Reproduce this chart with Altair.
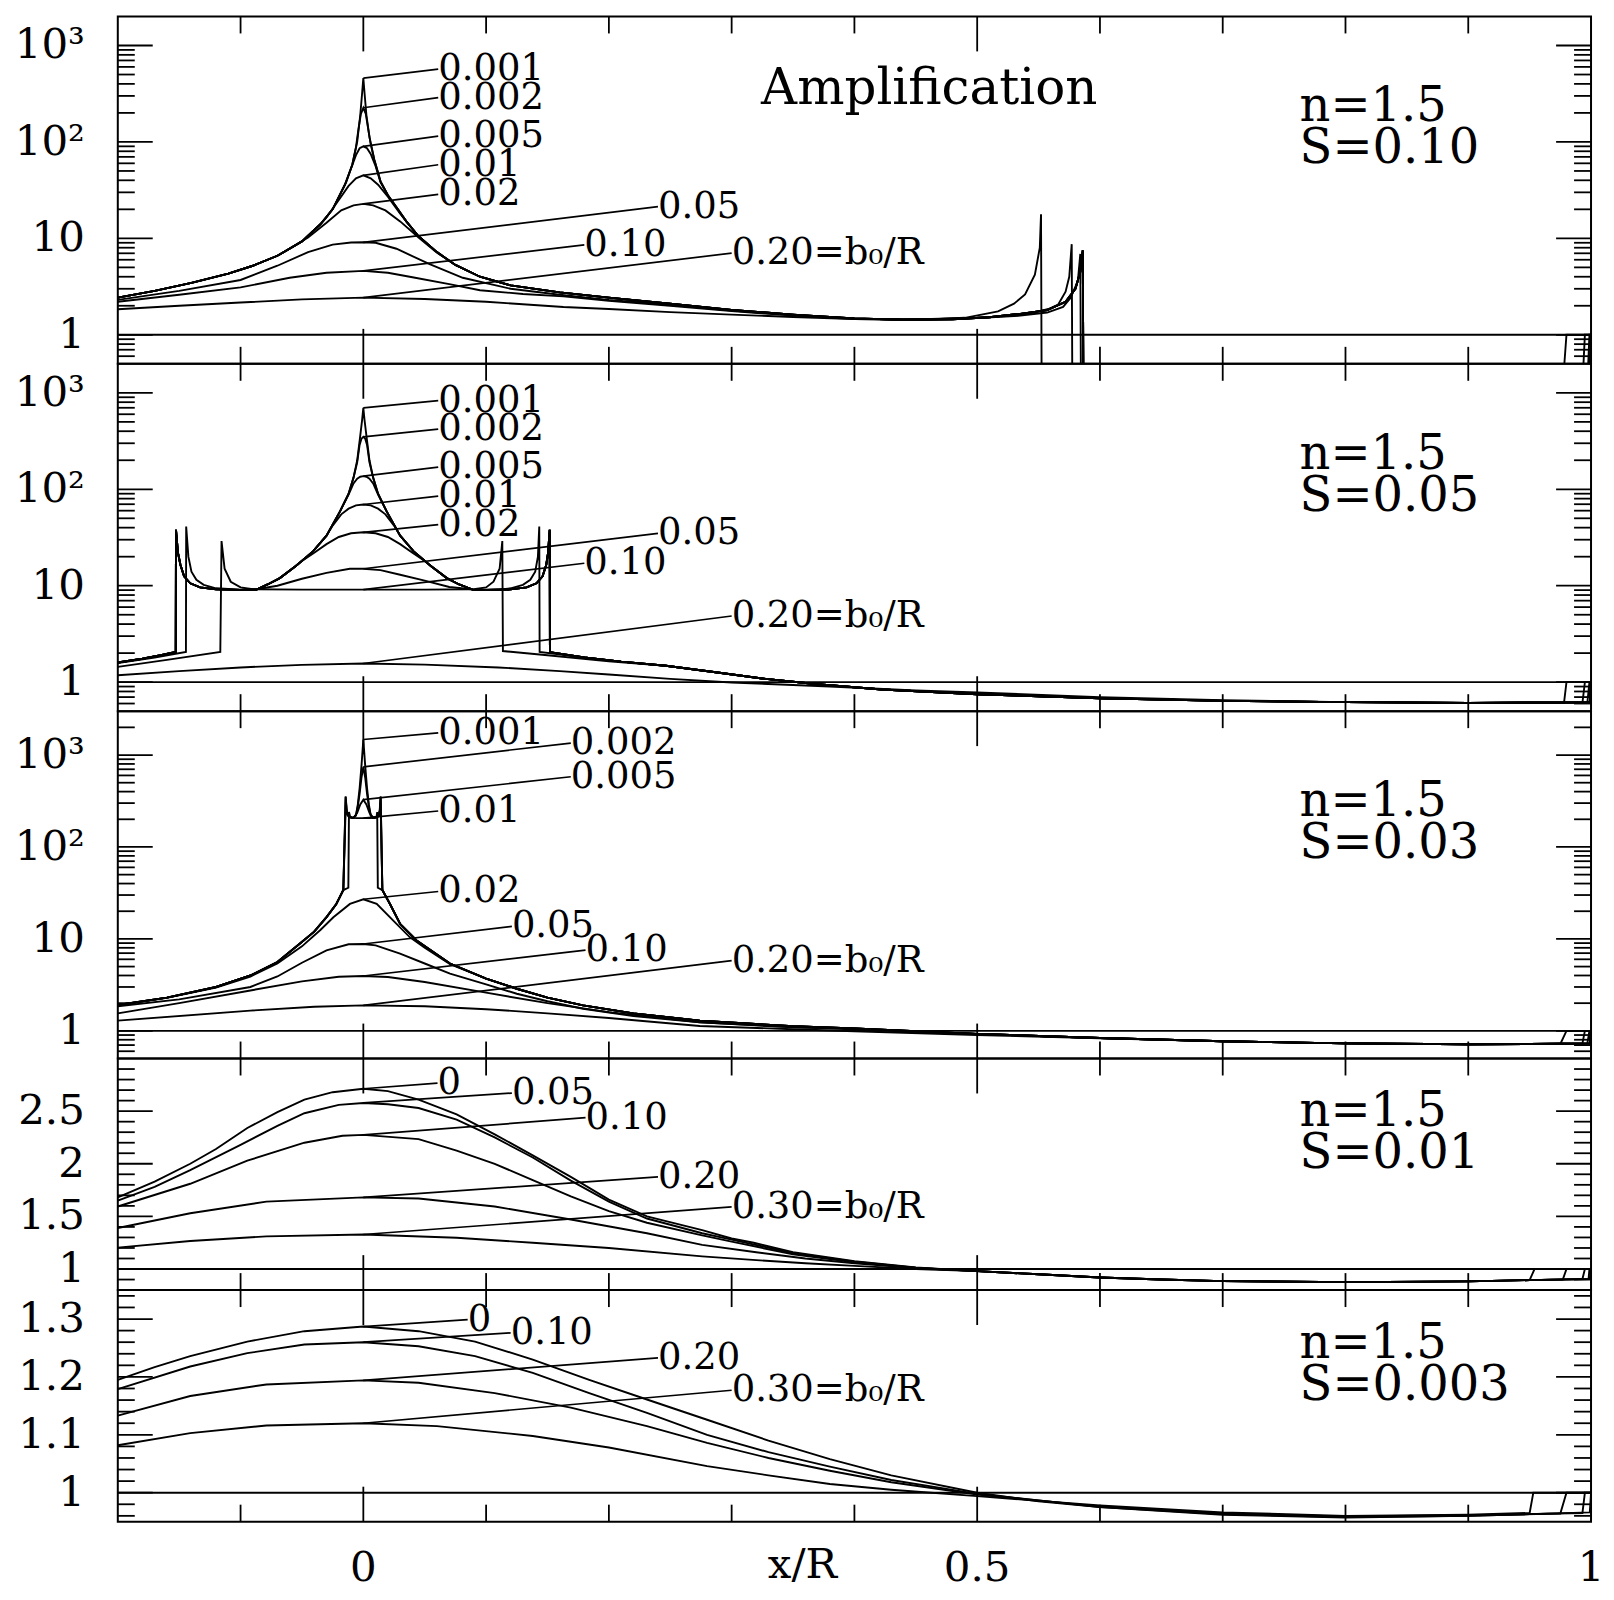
import altair as alt
import pandas as pd

FONT = "DejaVu Serif"
PLOT_W = 1476
PANEL_H = [348, 348, 348, 232, 232]

# ---------------- axes / ticks ----------------
x_domain = [-0.2, 1.0]
x_major = [0.0, 0.5, 1.0]
x_major_labels = ["0", "0.5", "1"]
x_minor = [-0.1, 0.1, 0.2, 0.3, 0.4, 0.6, 0.7, 0.8, 0.9]
x_title = "x/R"

y_domains = [[0.5, 2000], [0.5, 2000], [0.5, 3000], [0.8, 3.0], [0.95, 1.35]]
y_types = ["log", "log", "log", "linear", "linear"]
log_major = [1, 10, 100, 1000]
log_major_labels = ["1", "10", "10²", "10³"]
log_minor_2000 = [0.6, 0.7, 0.8, 0.9, 2, 3, 4, 5, 6, 7, 8, 9, 20, 30, 40, 50, 60, 70, 80, 90,
                  200, 300, 400, 500, 600, 700, 800, 900]
log_minor_3000 = log_minor_2000 + [2000]
lin4_major = [1.0, 1.5, 2.0, 2.5]
lin4_major_labels = ["1", "1.5", "2", "2.5"]
lin4_minor = [0.9, 1.1, 1.2, 1.3, 1.4, 1.6, 1.7, 1.8, 1.9, 2.1, 2.2, 2.3, 2.4, 2.6, 2.7, 2.8, 2.9]
lin5_major = [1.0, 1.1, 1.2, 1.3]
lin5_major_labels = ["1", "1.1", "1.2", "1.3"]
lin5_minor = [0.96, 0.98, 1.02, 1.04, 1.06, 1.08, 1.12, 1.14, 1.16, 1.18, 1.22, 1.24, 1.26,
              1.28, 1.32, 1.34]
ref_level = [1.0]
panel_n = "n=1.5"
panel_S = ["S=0.10", "S=0.05", "S=0.03", "S=0.01", "S=0.003"]
title_text = "Amplification"

# ---------------- panel 1 (S=0.10) ----------------
p1_env = [(-0.2, 2.43), (-0.17, 2.85), (-0.14, 3.45), (-0.11, 4.3), (-0.09, 5.2), (-0.07, 6.6),
          (-0.05, 9.3), (-0.035, 14), (-0.025, 20), (-0.015, 36), (-0.009, 58), (-0.005, 100),
          (-0.0025, 190), (-0.001, 320),
          (0.001, 320), (0.0025, 190), (0.005, 112), (0.009, 65), (0.014, 39), (0.02, 28),
          (0.027, 21), (0.035, 15), (0.045, 10.5), (0.06, 7.2), (0.075, 5.3), (0.095, 4.0),
          (0.12, 3.25), (0.16, 2.75), (0.2, 2.43), (0.25, 2.1), (0.3, 1.81), (0.35, 1.62),
          (0.4, 1.48)]
p1_core_0001 = [(0.0, 458)]
p1_core_0002 = [(-0.006, 88), (-0.004, 135), (-0.002, 195), (0.0, 226), (0.002, 195),
                (0.004, 135), (0.006, 95)]
p1_core_0005 = [(-0.014, 38), (-0.01, 53), (-0.006, 73), (-0.003, 86), (0.0, 90), (0.003, 86),
                (0.006, 75), (0.01, 56), (0.014, 38)]
p1_core_001 = [(-0.03, 16.5), (-0.02, 25), (-0.012, 35), (-0.006, 42), (0.0, 45), (0.006, 42),
               (0.012, 36), (0.02, 27), (0.03, 18)]
p1_core_002 = [(-0.06, 7.8), (-0.045, 10.2), (-0.03, 14.5), (-0.018, 19.5), (-0.008, 22),
               (0.0, 22.8), (0.008, 22), (0.018, 19.5), (0.03, 15), (0.045, 10.2), (0.06, 7.1)]
p1_b005 = [(-0.2, 2.3), (-0.15, 2.85), (-0.1, 3.7), (-0.07, 5.2), (-0.045, 7.2), (-0.025, 8.6),
           (-0.01, 9.05), (0.0, 9.1), (0.01, 9.0), (0.027, 7.8), (0.054, 5.4), (0.081, 3.9),
           (0.12, 3.0), (0.16, 2.6), (0.2, 2.3), (0.25, 2.05), (0.3, 1.78), (0.35, 1.6), (0.4, 1.47)]
p1_b010 = [(-0.2, 2.2), (-0.15, 2.6), (-0.1, 3.1), (-0.06, 3.9), (-0.03, 4.4), (0.0, 4.6),
           (0.02, 4.4), (0.04, 3.95), (0.07, 3.35), (0.095, 2.9), (0.13, 2.65), (0.163, 2.5),
           (0.2, 2.25), (0.25, 2.0), (0.3, 1.76), (0.35, 1.58), (0.4, 1.46)]
p1_b020 = [(-0.2, 1.84), (-0.15, 2.0), (-0.1, 2.16), (-0.05, 2.33), (0.0, 2.43), (0.05, 2.35),
           (0.1, 2.2), (0.163, 1.94), (0.2, 1.85), (0.25, 1.72), (0.3, 1.62), (0.35, 1.53),
           (0.4, 1.46)]
p1_tail_small = [(0.44, 1.43), (0.48, 1.45), (0.51, 1.52), (0.535, 1.65), (0.557, 1.8),
                 (0.572, 2.2), (0.58, 3.0), (0.584, 4.5), (0.586, 7.5), (0.5865, 0.3),
                 (0.999, 0.3), (1.0, 1.0)]
p1_tail_005 = [(0.44, 1.43), (0.5, 1.49), (0.53, 1.56), (0.557, 1.7), (0.57, 1.95), (0.576, 2.41),
               (0.582, 3.6), (0.584, 6.9), (0.5845, 0.3), (0.997, 0.3), (0.9987, 1.0), (1.0, 1.0)]
p1_tail_010 = [(0.44, 1.43), (0.5, 1.5), (0.53, 1.58), (0.544, 1.68), (0.558, 1.85),
               (0.566, 2.06), (0.572, 2.8), (0.575, 4.0), (0.577, 8.7), (0.5775, 0.3),
               (0.993, 0.3), (0.995, 1.0), (1.0, 1.0)]
p1_tail_020 = [(0.46, 1.44), (0.49, 1.5), (0.517, 1.75), (0.53, 2.1), (0.539, 2.62), (0.547, 4.2),
               (0.551, 8.0), (0.552, 17.8), (0.5525, 0.3), (0.977, 0.3), (0.98, 1.0), (1.0, 1.0)]
p1_labels = ["0.001", "0.002", "0.005", "0.01", "0.02", "0.05", "0.10", "0.20=b₀/R"]
p1_peaks = [458, 226, 90, 45, 22.8, 9.1, 4.6, 2.43]
p1_lab_x = [0.061, 0.061, 0.061, 0.061, 0.061, 0.24, 0.18, 0.30]
p1_lab_y = [570, 288, 115, 58, 28.6, 21.3, 8.56, 7.03]

# ---------------- panel 2 (S=0.05) ----------------
p2_env = [(-0.087, 9.1), (-0.078, 10.3), (-0.068, 12), (-0.055, 16), (-0.041, 22.7), (-0.03, 33),
          (-0.019, 59), (-0.012, 90), (-0.008, 132), (-0.005, 200), (-0.0027, 344), (-0.001, 520),
          (0.001, 520), (0.0027, 344), (0.005, 200), (0.008, 132), (0.012, 90), (0.019, 59),
          (0.03, 33), (0.041, 22.7), (0.055, 16), (0.068, 12), (0.078, 10.3), (0.089, 9.1)]
p2_core_0001 = [(0.0, 697)]
p2_core_0002 = [(-0.005, 190), (-0.003, 290), (-0.0015, 335), (0.0, 350), (0.0015, 335),
                (0.003, 290), (0.005, 190)]
p2_core_0005 = [(-0.012, 88), (-0.008, 115), (-0.005, 129), (-0.0025, 135), (0.0, 137),
                (0.0025, 135), (0.005, 129), (0.008, 115), (0.012, 88)]
p2_core_001 = [(-0.025, 42), (-0.018, 55), (-0.012, 63), (-0.006, 68), (0.0, 69.5), (0.006, 68),
               (0.012, 63), (0.018, 55), (0.025, 42)]
p2_core_002 = [(-0.05, 18), (-0.04, 22), (-0.03, 27), (-0.02, 32), (-0.01, 35), (0.0, 35.8),
               (0.01, 35), (0.02, 32), (0.03, 27), (0.04, 22), (0.05, 18)]
p2_left_small = [(-0.2, 1.6), (-0.18, 1.75), (-0.165, 1.9), (-0.1528, 2.06), (-0.1526, 38),
                 (-0.151, 22), (-0.149, 16.5), (-0.146, 12.5), (-0.141, 10.6), (-0.133, 9.6),
                 (-0.12, 9.15), (-0.1, 9.05)]
p2_right_small = [(0.1, 9.05), (0.12, 9.15), (0.133, 9.6), (0.141, 10.6), (0.146, 12.5),
                  (0.149, 16.5), (0.1505, 22), (0.1518, 38), (0.152, 2.04), (0.18, 1.8),
                  (0.21, 1.63), (0.2465, 1.48), (0.29, 1.25), (0.3277, 1.08), (0.37, 0.95),
                  (0.4224, 0.84), (0.5, 0.75), (0.6, 0.68), (0.7, 0.64), (0.8, 0.62), (0.9, 0.61),
                  (0.999, 0.62), (1.0, 1.0)]
p2_b005 = [(-0.2, 1.58), (-0.17, 1.8), (-0.1445, 2.06), (-0.1443, 41), (-0.1425, 20), (-0.14, 14),
           (-0.136, 11.5), (-0.13, 10.2), (-0.12, 9.4), (-0.1, 9.1), (-0.087, 9.2), (-0.07, 10),
           (-0.05, 11.8), (-0.03, 13.6), (-0.011, 15), (0.0, 15), (0.014, 14.5), (0.03, 13),
           (0.05, 11.3), (0.07, 9.7), (0.09, 9.15), (0.11, 9.1), (0.12, 9.4), (0.13, 10.2),
           (0.136, 11.5), (0.14, 14), (0.1422, 20), (0.1433, 41), (0.1436, 2.06), (0.18, 1.8),
           (0.21, 1.63), (0.2465, 1.48), (0.29, 1.25), (0.3277, 1.08), (0.37, 0.95),
           (0.4224, 0.84), (0.5, 0.75), (0.6, 0.68), (0.7, 0.64), (0.8, 0.62), (0.9, 0.61),
           (0.997, 0.61), (0.9987, 1.0), (1.0, 1.0)]
p2_b010 = [(-0.2, 1.44), (-0.16, 1.7), (-0.1165, 2.06), (-0.1155, 29), (-0.113, 15), (-0.108, 11),
           (-0.1, 9.6), (-0.09, 9.2), (-0.05, 9.1), (0.0, 9.1), (0.05, 9.1), (0.09, 9.2),
           (0.1, 9.6), (0.106, 11), (0.111, 15), (0.1132, 29), (0.1137, 2.1), (0.15, 1.9),
           (0.2, 1.64), (0.2465, 1.48), (0.29, 1.25), (0.3277, 1.08), (0.37, 0.95), (0.4224, 0.84),
           (0.5, 0.75), (0.6, 0.68), (0.7, 0.64), (0.8, 0.62), (0.9, 0.61), (0.993, 0.61),
           (0.995, 1.0), (1.0, 1.0)]
p2_b020 = [(-0.2, 1.18), (-0.15, 1.3), (-0.1, 1.42), (-0.05, 1.51), (0.0, 1.56), (0.05, 1.52),
           (0.11, 1.42), (0.16, 1.3), (0.2, 1.2), (0.25, 1.08), (0.3, 0.99), (0.38, 0.9),
           (0.45, 0.82), (0.5, 0.78), (0.6, 0.7), (0.7, 0.65), (0.8, 0.62), (0.9, 0.61),
           (0.978, 0.61), (0.98, 1.0), (1.0, 1.0)]
p2_labels = p1_labels
p2_peaks = [697, 350, 137, 69.5, 35.8, 15, 9.1, 1.56]
p2_lab_x = [0.061, 0.061, 0.061, 0.061, 0.061, 0.24, 0.18, 0.30]
p2_lab_y = [830, 420, 170, 85, 43, 34.9, 17.1, 4.85]

# ---------------- panel 3 (S=0.03) ----------------
p3_env_left = [(-0.2, 1.91), (-0.16, 2.3), (-0.12, 3.0), (-0.092, 4.0), (-0.07, 5.6),
               (-0.0516, 8.9), (-0.04, 12), (-0.0298, 17.4), (-0.022, 24), (-0.019, 28.8),
               (-0.0163, 34)]
p3_env_right = [(0.0155, 34), (0.0217, 24), (0.0299, 14.6), (0.0434, 9.6), (0.0706, 5.4),
                (0.1, 3.7), (0.125, 2.87), (0.15, 2.3), (0.179, 1.89), (0.22, 1.55), (0.274, 1.29),
                (0.35, 1.12), (0.4, 1.06), (0.5, 0.925), (0.6, 0.835), (0.7, 0.77), (0.8, 0.73),
                (0.9, 0.715), (0.95, 0.72)]
p3_in_0001 = [(-0.0144, 355), (-0.0138, 260), (-0.013, 225), (-0.011, 210), (-0.008, 208),
              (-0.006, 222), (-0.0045, 290), (-0.003, 440), (-0.0014, 800), (0.0, 1476),
              (0.0014, 800), (0.003, 440), (0.0045, 290), (0.006, 222), (0.008, 208),
              (0.011, 210), (0.013, 225), (0.0136, 260), (0.0141, 355)]
p3_in_0002 = [(-0.0144, 350), (-0.0138, 258), (-0.013, 224), (-0.011, 209), (-0.008, 207),
              (-0.006, 220), (-0.0045, 275), (-0.003, 380), (-0.0015, 570), (0.0, 743),
              (0.0015, 570), (0.003, 380), (0.0045, 275), (0.006, 220), (0.008, 207),
              (0.011, 209), (0.013, 224), (0.0136, 258), (0.0141, 350)]
p3_in_0005 = [(-0.0142, 330), (-0.0135, 250), (-0.012, 215), (-0.008, 207), (-0.005, 235),
              (-0.0025, 290), (0.0, 327), (0.0025, 290), (0.005, 235), (0.008, 207), (0.012, 215),
              (0.0133, 250), (0.014, 330)]
p3_in_001 = [(-0.0122, 36), (-0.0117, 240), (-0.0108, 214), (-0.009, 207), (-0.005, 206),
             (0.0, 206), (0.005, 206), (0.009, 207), (0.0108, 214), (0.0113, 240), (0.0118, 36)]
p3_b002 = [(-0.2, 1.9), (-0.16, 2.28), (-0.12, 2.95), (-0.092, 3.9), (-0.07, 5.4), (-0.05, 8.3),
           (-0.035, 12.5), (-0.0244, 17.2), (-0.0109, 24), (0.0, 27), (0.0109, 24),
           (0.0244, 15.8), (0.038, 10.4), (0.05, 8.0), (0.0706, 5.3)]
p3_b005 = [(-0.2, 1.85), (-0.15, 2.2), (-0.092, 3.0), (-0.07, 3.9), (-0.05, 5.5), (-0.03, 7.5),
           (-0.012, 8.75), (0.0, 8.8), (0.01, 8.5), (0.0299, 6.9), (0.05, 5.4), (0.0706, 4.19),
           (0.1, 3.2), (0.125, 2.53), (0.15, 2.1), (0.179, 1.74), (0.22, 1.45), (0.274, 1.24),
           (0.35, 1.1), (0.4, 1.05)]
p3_b010 = [(-0.2, 1.55), (-0.15, 2.0), (-0.092, 2.75), (-0.05, 3.45), (-0.02, 3.88), (0.0, 3.95),
           (0.02, 3.85), (0.05, 3.4), (0.1, 2.6), (0.15, 2.0), (0.2, 1.6), (0.274, 1.24),
           (0.35, 1.09), (0.4, 1.04)]
p3_b020 = [(-0.2, 1.29), (-0.092, 1.66), (-0.04, 1.83), (0.0, 1.89), (0.05, 1.85), (0.1, 1.72),
           (0.15, 1.55), (0.2, 1.38), (0.274, 1.13), (0.35, 1.04), (0.4, 0.99), (0.5, 0.9),
           (0.6, 0.83), (0.7, 0.77), (0.8, 0.73), (0.9, 0.715), (0.975, 0.72), (0.98, 1.0),
           (1.0, 1.0)]
p3_edge_small = [(0.999, 0.73), (1.0, 1.0)]
p3_edge_005 = [(0.997, 0.73), (0.9987, 1.0), (1.0, 1.0)]
p3_edge_010 = [(0.993, 0.73), (0.995, 1.0), (1.0, 1.0)]
p3_labels = p1_labels
p3_peaks = [1476, 743, 327, 206, 27, 8.8, 3.95, 1.89]
p3_lab_x = [0.061, 0.169, 0.169, 0.061, 0.061, 0.121, 0.181, 0.30]
p3_lab_y = [1740, 1350, 580, 246, 32.8, 13.7, 7.56, 5.81]

# ---------------- panel 4 (S=0.01) ----------------
p4_tail = [(0.5, 0.98), (0.55, 0.95), (0.6, 0.92), (0.65, 0.9), (0.7, 0.885), (0.8, 0.876),
           (0.9, 0.883), (0.95, 0.895)]
p4_b000 = [(-0.2, 1.68), (-0.17, 1.83), (-0.141, 2.0), (-0.12, 2.14), (-0.0945, 2.34),
           (-0.07, 2.49), (-0.048, 2.61), (-0.025, 2.68), (0.0, 2.713), (0.02, 2.69), (0.045, 2.61),
           (0.076, 2.47), (0.107, 2.28), (0.138, 2.08), (0.169, 1.875), (0.2, 1.66), (0.231, 1.5),
           (0.276, 1.37), (0.3, 1.29), (0.318, 1.25), (0.35, 1.16), (0.4, 1.075), (0.45, 1.015)]
p4_b005 = [(-0.2, 1.65), (-0.17, 1.78), (-0.141, 1.94), (-0.1, 2.18), (-0.07, 2.36),
           (-0.048, 2.48), (-0.02, 2.56), (0.0, 2.578), (0.02, 2.565), (0.045, 2.53),
           (0.076, 2.42), (0.107, 2.25), (0.138, 2.06), (0.169, 1.84), (0.2, 1.64), (0.231, 1.48),
           (0.276, 1.34), (0.3, 1.28), (0.35, 1.15), (0.4, 1.07), (0.45, 1.012)]
p4_b010 = [(-0.2, 1.594), (-0.141, 1.81), (-0.0945, 2.03), (-0.048, 2.2), (-0.017, 2.266),
           (0.0, 2.275), (0.045, 2.234), (0.076, 2.125), (0.107, 2.0), (0.138, 1.844),
           (0.169, 1.69), (0.2, 1.55), (0.231, 1.44), (0.276, 1.32), (0.3, 1.26), (0.35, 1.14),
           (0.4, 1.065), (0.45, 1.01)]
p4_b020 = [(-0.2, 1.39), (-0.141, 1.53), (-0.079, 1.64), (0.0, 1.681), (0.045, 1.67),
           (0.107, 1.594), (0.169, 1.47), (0.231, 1.34), (0.276, 1.23), (0.32, 1.16), (0.36, 1.1),
           (0.4, 1.055), (0.45, 1.01)]
p4_b030 = [(-0.2, 1.203), (-0.141, 1.266), (-0.079, 1.31), (0.0, 1.328), (0.076, 1.297),
           (0.138, 1.25), (0.2, 1.2), (0.276, 1.12), (0.32, 1.085), (0.36, 1.055), (0.4, 1.03),
           (0.45, 1.0)]
p4_edge_000 = [(0.999, 0.905), (1.0, 1.0)]
p4_edge_005 = [(0.998, 0.905), (0.9987, 1.0), (1.0, 1.0)]
p4_edge_010 = [(0.993, 0.905), (0.995, 1.0), (1.0, 1.0)]
p4_edge_020 = [(0.977, 0.9), (0.98, 1.0), (1.0, 1.0)]
p4_edge_030 = [(0.954, 1.0), (1.0, 1.0)]
p4_labels = ["0", "0.05", "0.10", "0.20", "0.30=b₀/R"]
p4_peaks = [2.713, 2.578, 2.275, 1.681, 1.328]
p4_lab_x = [0.0604, 0.121, 0.181, 0.24, 0.30]
p4_lab_y = [2.766, 2.672, 2.4375, 1.875, 1.59]

# ---------------- panel 5 (S=0.003) ----------------
p5_b000 = [(-0.2, 1.195), (-0.17, 1.217), (-0.141, 1.236), (-0.0945, 1.261), (-0.048, 1.279),
           (0.0, 1.287), (0.045, 1.279), (0.091, 1.261), (0.138, 1.23), (0.184, 1.195),
           (0.231, 1.161), (0.28, 1.126), (0.33, 1.09), (0.38, 1.058), (0.43, 1.03), (0.5, 1.0),
           (0.55, 0.985), (0.6, 0.975), (0.7, 0.962), (0.8, 0.957), (0.9, 0.96), (0.95, 0.963),
           (0.999, 0.966), (1.0, 1.0)]
p5_b010 = [(-0.2, 1.179), (-0.141, 1.218), (-0.0945, 1.241), (-0.048, 1.256), (0.0, 1.26),
           (0.045, 1.253), (0.091, 1.236), (0.138, 1.207), (0.184, 1.172), (0.231, 1.138),
           (0.28, 1.1), (0.33, 1.07), (0.38, 1.045), (0.43, 1.022), (0.5, 0.998), (0.6, 0.975),
           (0.7, 0.963), (0.8, 0.958), (0.9, 0.96), (0.95, 0.963), (0.993, 0.965), (0.995, 1.0),
           (1.0, 1.0)]
p5_b020 = [(-0.2, 1.133), (-0.141, 1.167), (-0.079, 1.187), (0.0, 1.194), (0.045, 1.19),
           (0.107, 1.172), (0.169, 1.147), (0.231, 1.115), (0.28, 1.086), (0.33, 1.06),
           (0.38, 1.038), (0.43, 1.018), (0.5, 0.997), (0.6, 0.976), (0.7, 0.964), (0.8, 0.959),
           (0.9, 0.961), (0.975, 0.964), (0.98, 1.0), (1.0, 1.0)]
p5_b030 = [(-0.2, 1.082), (-0.141, 1.103), (-0.079, 1.116), (0.0, 1.12), (0.06, 1.115),
           (0.138, 1.098), (0.2, 1.078), (0.28, 1.046), (0.33, 1.03), (0.38, 1.015), (0.43, 1.005),
           (0.5, 0.994), (0.6, 0.978), (0.7, 0.966), (0.8, 0.96), (0.9, 0.962), (0.95, 0.965),
           (0.953, 1.0), (1.0, 1.0)]
p5_labels = ["0", "0.10", "0.20", "0.30=b₀/R"]
p5_peaks = [1.287, 1.26, 1.194, 1.12]
p5_lab_x = [0.085, 0.12, 0.24, 0.30]
p5_lab_y = [1.299, 1.276, 1.233, 1.177]


def splice(env, core):
    return [p for p in env if p[0] < core[0][0]] + core + [p for p in env if p[0] > core[-1][0]]


def after(pts, x0):
    return [p for p in pts if p[0] >= x0]


panel1_curves = [
    ("0.001", splice(p1_env, p1_core_0001) + p1_tail_small),
    ("0.002", splice(p1_env, p1_core_0002) + p1_tail_small),
    ("0.005", splice(p1_env, p1_core_0005) + p1_tail_small),
    ("0.01", splice(p1_env, p1_core_001) + p1_tail_small),
    ("0.02", splice(p1_env, p1_core_002) + p1_tail_small),
    ("0.05", p1_b005 + p1_tail_005),
    ("0.10", p1_b010 + p1_tail_010),
    ("0.20", p1_b020 + p1_tail_020),
]
panel2_curves = [
    ("0.001", p2_left_small + splice(p2_env, p2_core_0001) + p2_right_small),
    ("0.002", p2_left_small + splice(p2_env, p2_core_0002) + p2_right_small),
    ("0.005", p2_left_small + splice(p2_env, p2_core_0005) + p2_right_small),
    ("0.01", p2_left_small + splice(p2_env, p2_core_001) + p2_right_small),
    ("0.02", p2_left_small + splice(p2_env, p2_core_002) + p2_right_small),
    ("0.05", p2_b005),
    ("0.10", p2_b010),
    ("0.20", p2_b020),
]
panel3_curves = [
    ("0.001", p3_env_left + p3_in_0001 + p3_env_right + p3_edge_small),
    ("0.002", p3_env_left + p3_in_0002 + p3_env_right + p3_edge_small),
    ("0.005", p3_env_left + p3_in_0005 + p3_env_right + p3_edge_small),
    ("0.01", p3_env_left + p3_in_001 + p3_env_right + p3_edge_small),
    ("0.02", p3_b002 + after(p3_env_right, 0.1) + p3_edge_small),
    ("0.05", p3_b005 + after(p3_env_right, 0.5) + p3_edge_005),
    ("0.10", p3_b010 + after(p3_env_right, 0.5) + p3_edge_010),
    ("0.20", p3_b020),
]
panel4_curves = [
    ("0", p4_b000 + p4_tail + p4_edge_000),
    ("0.05", p4_b005 + p4_tail + p4_edge_005),
    ("0.10", p4_b010 + p4_tail + p4_edge_010),
    ("0.20", p4_b020 + p4_tail + p4_edge_020),
    ("0.30", p4_b030 + p4_tail + p4_edge_030),
]
panel5_curves = [("0", p5_b000), ("0.10", p5_b010), ("0.20", p5_b020), ("0.30", p5_b030)]


def build_panel(idx, curves, labels, peaks, lab_x, lab_y, major, major_labels, minor,
                show_x=False, title=False):
    H = PANEL_H[idx]
    xs = alt.Scale(domain=x_domain, nice=False, zero=False)
    if y_types[idx] == "log":
        ys = alt.Scale(type="log", domain=y_domains[idx], nice=False)
    else:
        ys = alt.Scale(type="linear", domain=y_domains[idx], nice=False, zero=False)

    rows = []
    for name, pts in curves:
        for k, (xv, yv) in enumerate(pts):
            rows.append({"x": xv, "y": yv, "curve": name, "k": k})
    cdf = pd.DataFrame(rows)

    lw = 1.9
    layers = []
    layers.append(alt.Chart(cdf).mark_line(color="black", strokeWidth=lw, clip=True).encode(
        x=alt.X("x:Q", scale=xs, axis=None),
        y=alt.Y("y:Q", scale=ys, axis=None),
        detail="curve:N",
        order="k:Q",
    ))
    layers.append(alt.Chart(pd.DataFrame({"y": ref_level})).mark_rule(
        color="black", strokeWidth=lw).encode(y=alt.Y("y:Q", scale=ys, axis=None)))

    ldf = pd.DataFrame({"x0": [0.0] * len(labels), "y0": peaks, "lx": lab_x, "ly": lab_y,
                        "t": labels})
    layers.append(alt.Chart(ldf).mark_rule(color="black", strokeWidth=1.7).encode(
        x=alt.X("x0:Q", scale=xs, axis=None), y=alt.Y("y0:Q", scale=ys, axis=None),
        x2="lx:Q", y2="ly:Q"))
    layers.append(alt.Chart(ldf).mark_text(align="left", baseline="middle", font=FONT,
                                           fontSize=37, color="black").encode(
        x=alt.X("lx:Q", scale=xs, axis=None), y=alt.Y("ly:Q", scale=ys, axis=None), text="t:N"))

    # y tick labels (left, outside)
    ydf = pd.DataFrame({"v": major, "t": major_labels})
    layers.append(alt.Chart(ydf).mark_text(align="right", baseline="middle", font=FONT,
                                           fontSize=42, color="black").encode(
        y=alt.Y("v:Q", scale=ys, axis=None), x=alt.value(-33), text="t:N"))

    # y ticks (left / right, inward)
    for vals, L in ((major, 35), (minor, 17)):
        tdf = pd.DataFrame({"v": vals})
        layers.append(alt.Chart(tdf).mark_rule(color="black", strokeWidth=1.8).encode(
            y=alt.Y("v:Q", scale=ys, axis=None), x=alt.value(0), x2=alt.value(L)))
        layers.append(alt.Chart(tdf).mark_rule(color="black", strokeWidth=1.8).encode(
            y=alt.Y("v:Q", scale=ys, axis=None), x=alt.value(PLOT_W - L), x2=alt.value(PLOT_W)))
    # x ticks (top / bottom, inward)
    for vals, L in ((x_major[:-1], 35), (x_minor, 17)):
        tdf = pd.DataFrame({"v": vals})
        layers.append(alt.Chart(tdf).mark_rule(color="black", strokeWidth=1.8).encode(
            x=alt.X("v:Q", scale=xs, axis=None), y=alt.value(0), y2=alt.value(L)))
        layers.append(alt.Chart(tdf).mark_rule(color="black", strokeWidth=1.8).encode(
            x=alt.X("v:Q", scale=xs, axis=None), y=alt.value(H - L), y2=alt.value(H)))

    if show_x:
        xdf = pd.DataFrame({"v": x_major, "t": x_major_labels})
        layers.append(alt.Chart(xdf).mark_text(align="center", baseline="middle", font=FONT,
                                               fontSize=42, color="black").encode(
            x=alt.X("v:Q", scale=xs, axis=None), y=alt.value(H + 46), text="t:N"))
        layers.append(alt.Chart(pd.DataFrame({"t": [x_title]})).mark_text(
            align="center", baseline="middle", font=FONT, fontSize=42, color="black").encode(
            text="t:N", x=alt.value(686), y=alt.value(H + 43)))

    ny, sy = (91, 133) if H > 300 else (54, 96)
    layers.append(alt.Chart(pd.DataFrame({"t": [panel_n]})).mark_text(
        align="left", baseline="middle", font=FONT, fontSize=48, color="black").encode(
        text="t:N", x=alt.value(1184), y=alt.value(ny)))
    layers.append(alt.Chart(pd.DataFrame({"t": [panel_S[idx]]})).mark_text(
        align="left", baseline="middle", font=FONT, fontSize=48, color="black").encode(
        text="t:N", x=alt.value(1184), y=alt.value(sy)))
    if title:
        layers.append(alt.Chart(pd.DataFrame({"t": [title_text]})).mark_text(
            align="center", baseline="middle", font=FONT, fontSize=50, color="black").encode(
            text="t:N", x=alt.value(813), y=alt.value(73)))

    return alt.layer(*layers).properties(width=PLOT_W, height=H)


panels = [
    build_panel(0, panel1_curves, p1_labels, p1_peaks, p1_lab_x, p1_lab_y,
                log_major, log_major_labels, log_minor_2000, title=True),
    build_panel(1, panel2_curves, p2_labels, p2_peaks, p2_lab_x, p2_lab_y,
                log_major, log_major_labels, log_minor_2000),
    build_panel(2, panel3_curves, p3_labels, p3_peaks, p3_lab_x, p3_lab_y,
                log_major, log_major_labels, log_minor_3000),
    build_panel(3, panel4_curves, p4_labels, p4_peaks, p4_lab_x, p4_lab_y,
                lin4_major, lin4_major_labels, lin4_minor),
    build_panel(4, panel5_curves, p5_labels, p5_peaks, p5_lab_x, p5_lab_y,
                lin5_major, lin5_major_labels, lin5_minor, show_x=True),
]

chart = alt.vconcat(*panels, spacing=0, bounds="flush").configure_view(
    stroke="black", strokeWidth=2
).properties(
    padding={"left": 5, "right": 0, "top": 5, "bottom": 0},
    background="white",
)

chart.save("out.html", embed_options={"renderer": "svg", "actions": False})
